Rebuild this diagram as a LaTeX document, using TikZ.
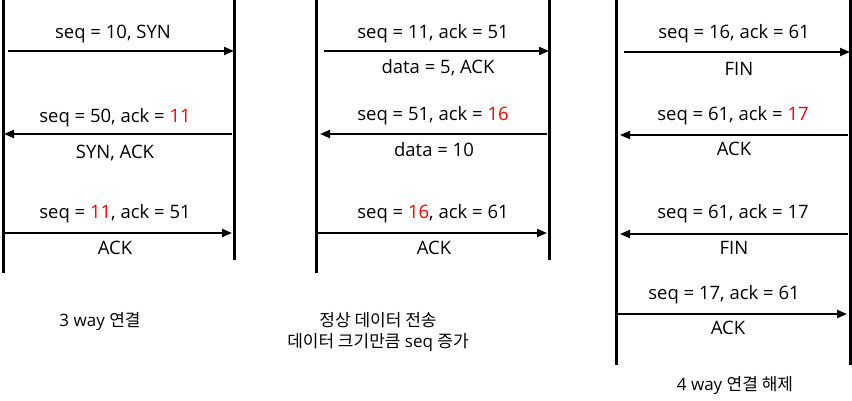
\documentclass[tikz,border=0pt]{standalone}
\usepackage{fontspec}
\setmainfont{Open Sans}
\newfontfamily\kr{Noto Sans CJK KR}
\usetikzlibrary{arrows.meta,positioning}

\begin{document}
\begin{tikzpicture}[x=1pt,y=-1pt,
  every node/.style={font=\fontsize{18.5}{22}\selectfont,inner sep=0pt,align=center,},%
  captxt/.style={font=\fontsize{17}{21}\selectfont,},%
  life/.style={line width=3pt,},%
  e/.style={-{Triangle[length=10pt,width=8pt]},line width=2pt,},%
  ]
  \useasboundingbox (0,0) rectangle (852,401);

  % lifelines
  \draw [life] (3,0) -- (3,273);
  \draw [life] (234,0) -- (234,260);
  \draw [life] (316,0) -- (316,273);
  \draw [life] (549,0) -- (549,260);
  \draw [life] (616,0) -- (616,365);
  \draw [life] (850,0) -- (850,365);

  % 3 way
  \coordinate (a1l) at (8,51);   \coordinate (a1r) at (234,51);
  \coordinate (a2l) at (4,134);  \coordinate (a2r) at (232,134);
  \coordinate (a3l) at (4,233);  \coordinate (a3r) at (232,233);
  \draw [e] (a1l) -- (a1r);
  \draw [e] (a2r) -- (a2l);
  \draw [e] (a3l) -- (a3r);
  \node (a1t) at (113,34) {seq = 10, SYN};
  \node (a2t) at (115,118) {seq = 50, ack = \textcolor{red}{11}};
  \node (a2b) at (115,153) {SYN, ACK};
  \node (a3t) at (115,214) {seq = \textcolor{red}{11}, ack = 51};
  \node (a3b) at (115,248) {ACK};
  \node (cap1) [captxt] at (100,322) {3 way {\kr 연결}};

  % data
  \coordinate (b1l) at (324,51); \coordinate (b1r) at (549,51);
  \coordinate (b2l) at (320,134); \coordinate (b2r) at (547,134);
  \coordinate (b3l) at (318,233); \coordinate (b3r) at (547,233);
  \draw [e] (b1l) -- (b1r);
  \draw [e] (b2r) -- (b2l);
  \draw [e] (b3l) -- (b3r);
  \node (b1t) at (433,34) {seq = 11, ack = 51};
  \node (b1b) at (438,68) {data = 5, ACK};
  \node (b2t) at (433,116) {seq = 51, ack = \textcolor{red}{16}};
  \node (b2b) at (434,150) {data = 10};
  \node (b3t) at (433,214) {seq = \textcolor{red}{16}, ack = 61};
  \node (b3b) at (434,248) {ACK};
  \node (cap2) [captxt] at (378,332) {{\kr 정상 데이터 전송}\\{\kr 데이터 크기만큼} seq {\kr 증가}};

  % 4 way
  \coordinate (c1l) at (624,52); \coordinate (c1r) at (850,52);
  \coordinate (c2l) at (620,135); \coordinate (c2r) at (848,135);
  \coordinate (c3l) at (620,234); \coordinate (c3r) at (848,234);
  \coordinate (c4l) at (618,314); \coordinate (c4r) at (847,314);
  \draw [e] (c1l) -- (c1r);
  \draw [e] (c2r) -- (c2l);
  \draw [e] (c3r) -- (c3l);
  \draw [e] (c4l) -- (c4r);
  \node (c1t) at (734,34) {seq = 16, ack = 61};
  \node (c1b) at (739,69) {FIN};
  \node (c2t) at (733,116) {seq = 61, ack = \textcolor{red}{17}};
  \node (c2b) at (734,149) {ACK};
  \node (c3t) at (733,214) {seq = 61, ack = 17};
  \node (c3b) at (734,248) {FIN};
  \node (c4t) at (724,295) {seq = 17, ack = 61};
  \node (c4b) at (728,328) {ACK};
  \node (cap3) [captxt] at (735,386) {4 way {\kr 연결 해제}};
\end{tikzpicture}
\end{document}
